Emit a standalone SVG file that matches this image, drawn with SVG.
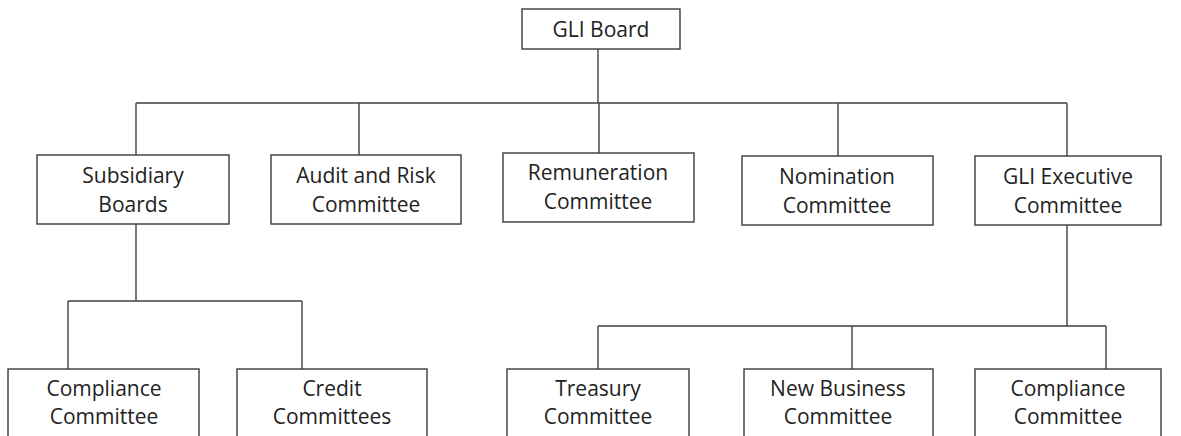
<svg xmlns="http://www.w3.org/2000/svg" width="1181" height="436" viewBox="0 0 1181 436">
<style>
.box{fill:#fff;stroke:#3a3a3a;stroke-width:1.4}
.ln{fill:none;stroke:#404040;stroke-width:1.4}
text{font-family:"Open Sans","Liberation Sans",sans-serif;font-size:21px;fill:#222;text-anchor:middle}
</style>
<rect width="1181" height="436" fill="#fff"/>
<g id="connectors">
<path class="ln" d="M598 49V103M136 103H1067M136 103V155M359 103V155M599 103V153M838 103V156M1067 103V156"/>
<path class="ln" d="M136 224V301M68 301H302M68 301V369M302 301V369"/>
<path class="ln" d="M1067 225V326M598 326H1106M598 326V369M852 326V369M1106 326V369"/>
</g>
<g id="gli-board"><rect class="box" x="522" y="9" width="158" height="40"/><text x="601" y="37">GLI Board</text></g>
<g id="subsidiary-boards"><rect class="box" x="37" y="155" width="192" height="69"/><text x="133" y="183">Subsidiary</text><text x="133" y="212">Boards</text></g>
<g id="audit-risk"><rect class="box" x="271" y="155" width="190" height="69"/><text x="366" y="183">Audit and Risk</text><text x="366" y="212">Committee</text></g>
<g id="remuneration"><rect class="box" x="503" y="153" width="191" height="69"/><text x="598" y="180">Remuneration</text><text x="598" y="209">Committee</text></g>
<g id="nomination"><rect class="box" x="742" y="156" width="191" height="69"/><text x="837" y="184">Nomination</text><text x="837" y="213">Committee</text></g>
<g id="gli-executive"><rect class="box" x="975" y="156" width="186" height="69"/><text x="1068" y="184">GLI Executive</text><text x="1068" y="213">Committee</text></g>
<g id="compliance-left"><rect class="box" x="8" y="369" width="191" height="80"/><text x="104" y="396">Compliance</text><text x="104" y="424">Committee</text></g>
<g id="credit"><rect class="box" x="237" y="369" width="190" height="80"/><text x="332" y="396">Credit</text><text x="332" y="424">Committees</text></g>
<g id="treasury"><rect class="box" x="507" y="369" width="182" height="80"/><text x="598" y="396">Treasury</text><text x="598" y="424">Committee</text></g>
<g id="new-business"><rect class="box" x="744" y="369" width="189" height="80"/><text x="838" y="396">New Business</text><text x="838" y="424">Committee</text></g>
<g id="compliance-right"><rect class="box" x="975" y="369" width="186" height="80"/><text x="1068" y="396">Compliance</text><text x="1068" y="424">Committee</text></g>
</svg>
